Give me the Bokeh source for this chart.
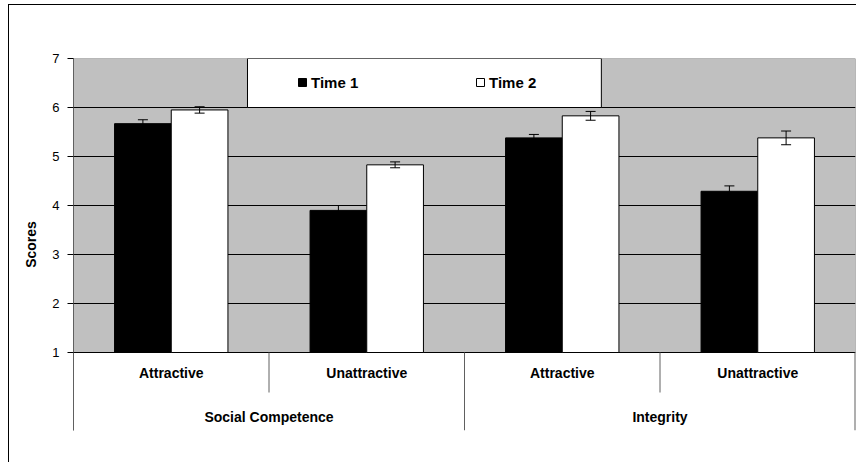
from bokeh.plotting import figure
from bokeh.models import (FactorRange, Range1d, ColumnDataSource, Whisker, TeeHead,
                          BoxAnnotation, FixedTicker, Legend, LegendItem)
from bokeh.transform import dodge
from bokeh.core.properties import value
from bokeh.embed import file_html
from bokeh.resources import INLINE

# ---- data ----
groups = ["Social Competence", "Integrity"]
conditions = ["Attractive", "Unattractive"]
series = ["Time 1", "Time 2"]
time1 = [5.67, 3.90, 5.38, 4.29]
time2 = [5.95, 4.83, 5.83, 5.38]
time1_err = [0.08, 0.10, 0.07, 0.11]
time2_err = [0.065, 0.06, 0.09, 0.14]
y_ticks = [1, 2, 3, 4, 5, 6, 7]
y_label = "Scores"

FONT = "Liberation Sans"
factors = [(g, c) for g in groups for c in conditions]
sub_labels = [c for g in groups for c in conditions]

frame_bg = ("linear-gradient(#000,#000) 8px 4px / 1px calc(100% - 4px) no-repeat, "
            "linear-gradient(#000,#000) 8px 4px / calc(100% - 8px) 1px no-repeat, #fff")

p = figure(width=856, height=462, output_backend="svg", toolbar_location=None,
           x_range=FactorRange(*factors, factor_padding=0, group_padding=0,
                               subgroup_padding=0, range_padding=0),
           y_range=Range1d(1 - 78 / 49, 7), x_axis_location=None,
           min_border_left=73, min_border_right=1, min_border_top=58,
           min_border_bottom=32,
           background_fill_color="white", border_fill_color=None,
           outline_line_color=None,
           styles={"background": frame_bg})

# gray plotting area
area = BoxAnnotation(bottom=y_ticks[0], top=y_ticks[-1], fill_color="#C0C0C0",
                     fill_alpha=1, line_color="#808080", line_alpha=1,
                     line_width=1, level="image")
p.add_layout(area)

for g in p.xgrid:
    g.visible = False
p.ygrid.ticker = FixedTicker(ticks=y_ticks[:-1])
p.ygrid.grid_line_color = "black"
p.ygrid.grid_line_width = 1

ax = p.yaxis[0]
ax.ticker = FixedTicker(ticks=y_ticks)
ax.minor_tick_line_color = None
ax.major_tick_in = 0
ax.major_tick_out = 6
ax.major_tick_line_color = "black"
ax.axis_line_color = "#606060"
ax.major_label_text_font = FONT
ax.major_label_text_font_size = "13px"
ax.major_label_text_color = "black"
ax.major_label_standoff = 8
ax.axis_label = y_label
ax.axis_label_text_font = FONT
ax.axis_label_text_font_style = "bold"
ax.axis_label_text_font_size = "14px"
ax.axis_label_text_color = "black"
ax.axis_label_standoff = 10

src = ColumnDataSource(dict(
    x=factors, t1=time1, t2=time2,
    t1_lo=[v - e for v, e in zip(time1, time1_err)],
    t1_hi=[v + e for v, e in zip(time1, time1_err)],
    t2_lo=[v - e for v, e in zip(time2, time2_err)],
    t2_hi=[v + e for v, e in zip(time2, time2_err)],
))

off = 0.145
bw = 0.29
r1 = p.vbar(x=dodge("x", -off, range=p.x_range), top="t1", bottom=y_ticks[0],
            width=bw, source=src, fill_color="black", line_color="black")
r2 = p.vbar(x=dodge("x", off, range=p.x_range), top="t2", bottom=y_ticks[0],
            width=bw, source=src, fill_color="white", line_color="black",
            line_width=1)

for d, lo, hi in [(-off, "t1_lo", "t1_hi"), (off, "t2_lo", "t2_hi")]:
    w = Whisker(base=dodge("x", d, range=p.x_range), lower=lo, upper=hi,
                source=src, line_color="black", line_width=1, level="annotation",
                upper_head=TeeHead(size=10, line_color="black", line_width=1),
                lower_head=TeeHead(size=10, line_color="black", line_width=1))
    p.add_layout(w)

# category axis labels
lab_src = ColumnDataSource(dict(x=factors, text=sub_labels))
p.text(x="x", y=1 - 20 / 49, text="text", source=lab_src,
       text_font=value(FONT), text_font_style="bold", text_font_size="14px",
       text_align="center", text_baseline="middle", text_color="black")
grp_src = ColumnDataSource(dict(x=groups, text=groups))
p.text(x="x", y=1 - 64 / 49, text="text", source=grp_src,
       text_font=value(FONT), text_font_style="bold", text_font_size="14px",
       text_align="center", text_baseline="middle", text_color="black")

# category separators
inner = ColumnDataSource(dict(x=[(g, conditions[1]) for g in groups]))
p.segment(x0=dodge("x", -0.5, range=p.x_range), x1=dodge("x", -0.5, range=p.x_range),
          y0=y_ticks[0], y1=1 - 40 / 49, source=inner, line_color="#606060",
          line_width=1)
outer_l = ColumnDataSource(dict(x=[(g, conditions[0]) for g in groups]))
p.segment(x0=dodge("x", -0.5, range=p.x_range), x1=dodge("x", -0.5, range=p.x_range),
          y0=y_ticks[0], y1=1 - 78 / 49, source=outer_l, line_color="#606060",
          line_width=1)
outer_r = ColumnDataSource(dict(x=[(groups[-1], conditions[-1])]))
p.segment(x0=dodge("x", 0.5, range=p.x_range), x1=dodge("x", 0.5, range=p.x_range),
          y0=y_ticks[0], y1=1 - 78 / 49, source=outer_r, line_color="#606060",
          line_width=2)

# legend box + legend
lbox = BoxAnnotation(left=0.89, right=2.70, bottom=6, top=7, fill_color="white",
                     fill_alpha=1, line_color="black", line_alpha=1, line_width=1)
p.add_layout(lbox)

legend = Legend(items=[LegendItem(label=series[0], renderers=[r1]),
                       LegendItem(label=series[1], renderers=[r2])],
                orientation="horizontal", location=(224, 338), padding=0, margin=0,
                spacing=34, glyph_width=10, glyph_height=10, label_standoff=4,
                label_width=130, label_height=20, label_text_font=FONT,
                label_text_font_style="bold", label_text_font_size="15px",
                label_text_color="black",
                background_fill_alpha=0, border_line_color=None)
p.add_layout(legend)

open("out.html", "w").write(file_html(p, INLINE))
